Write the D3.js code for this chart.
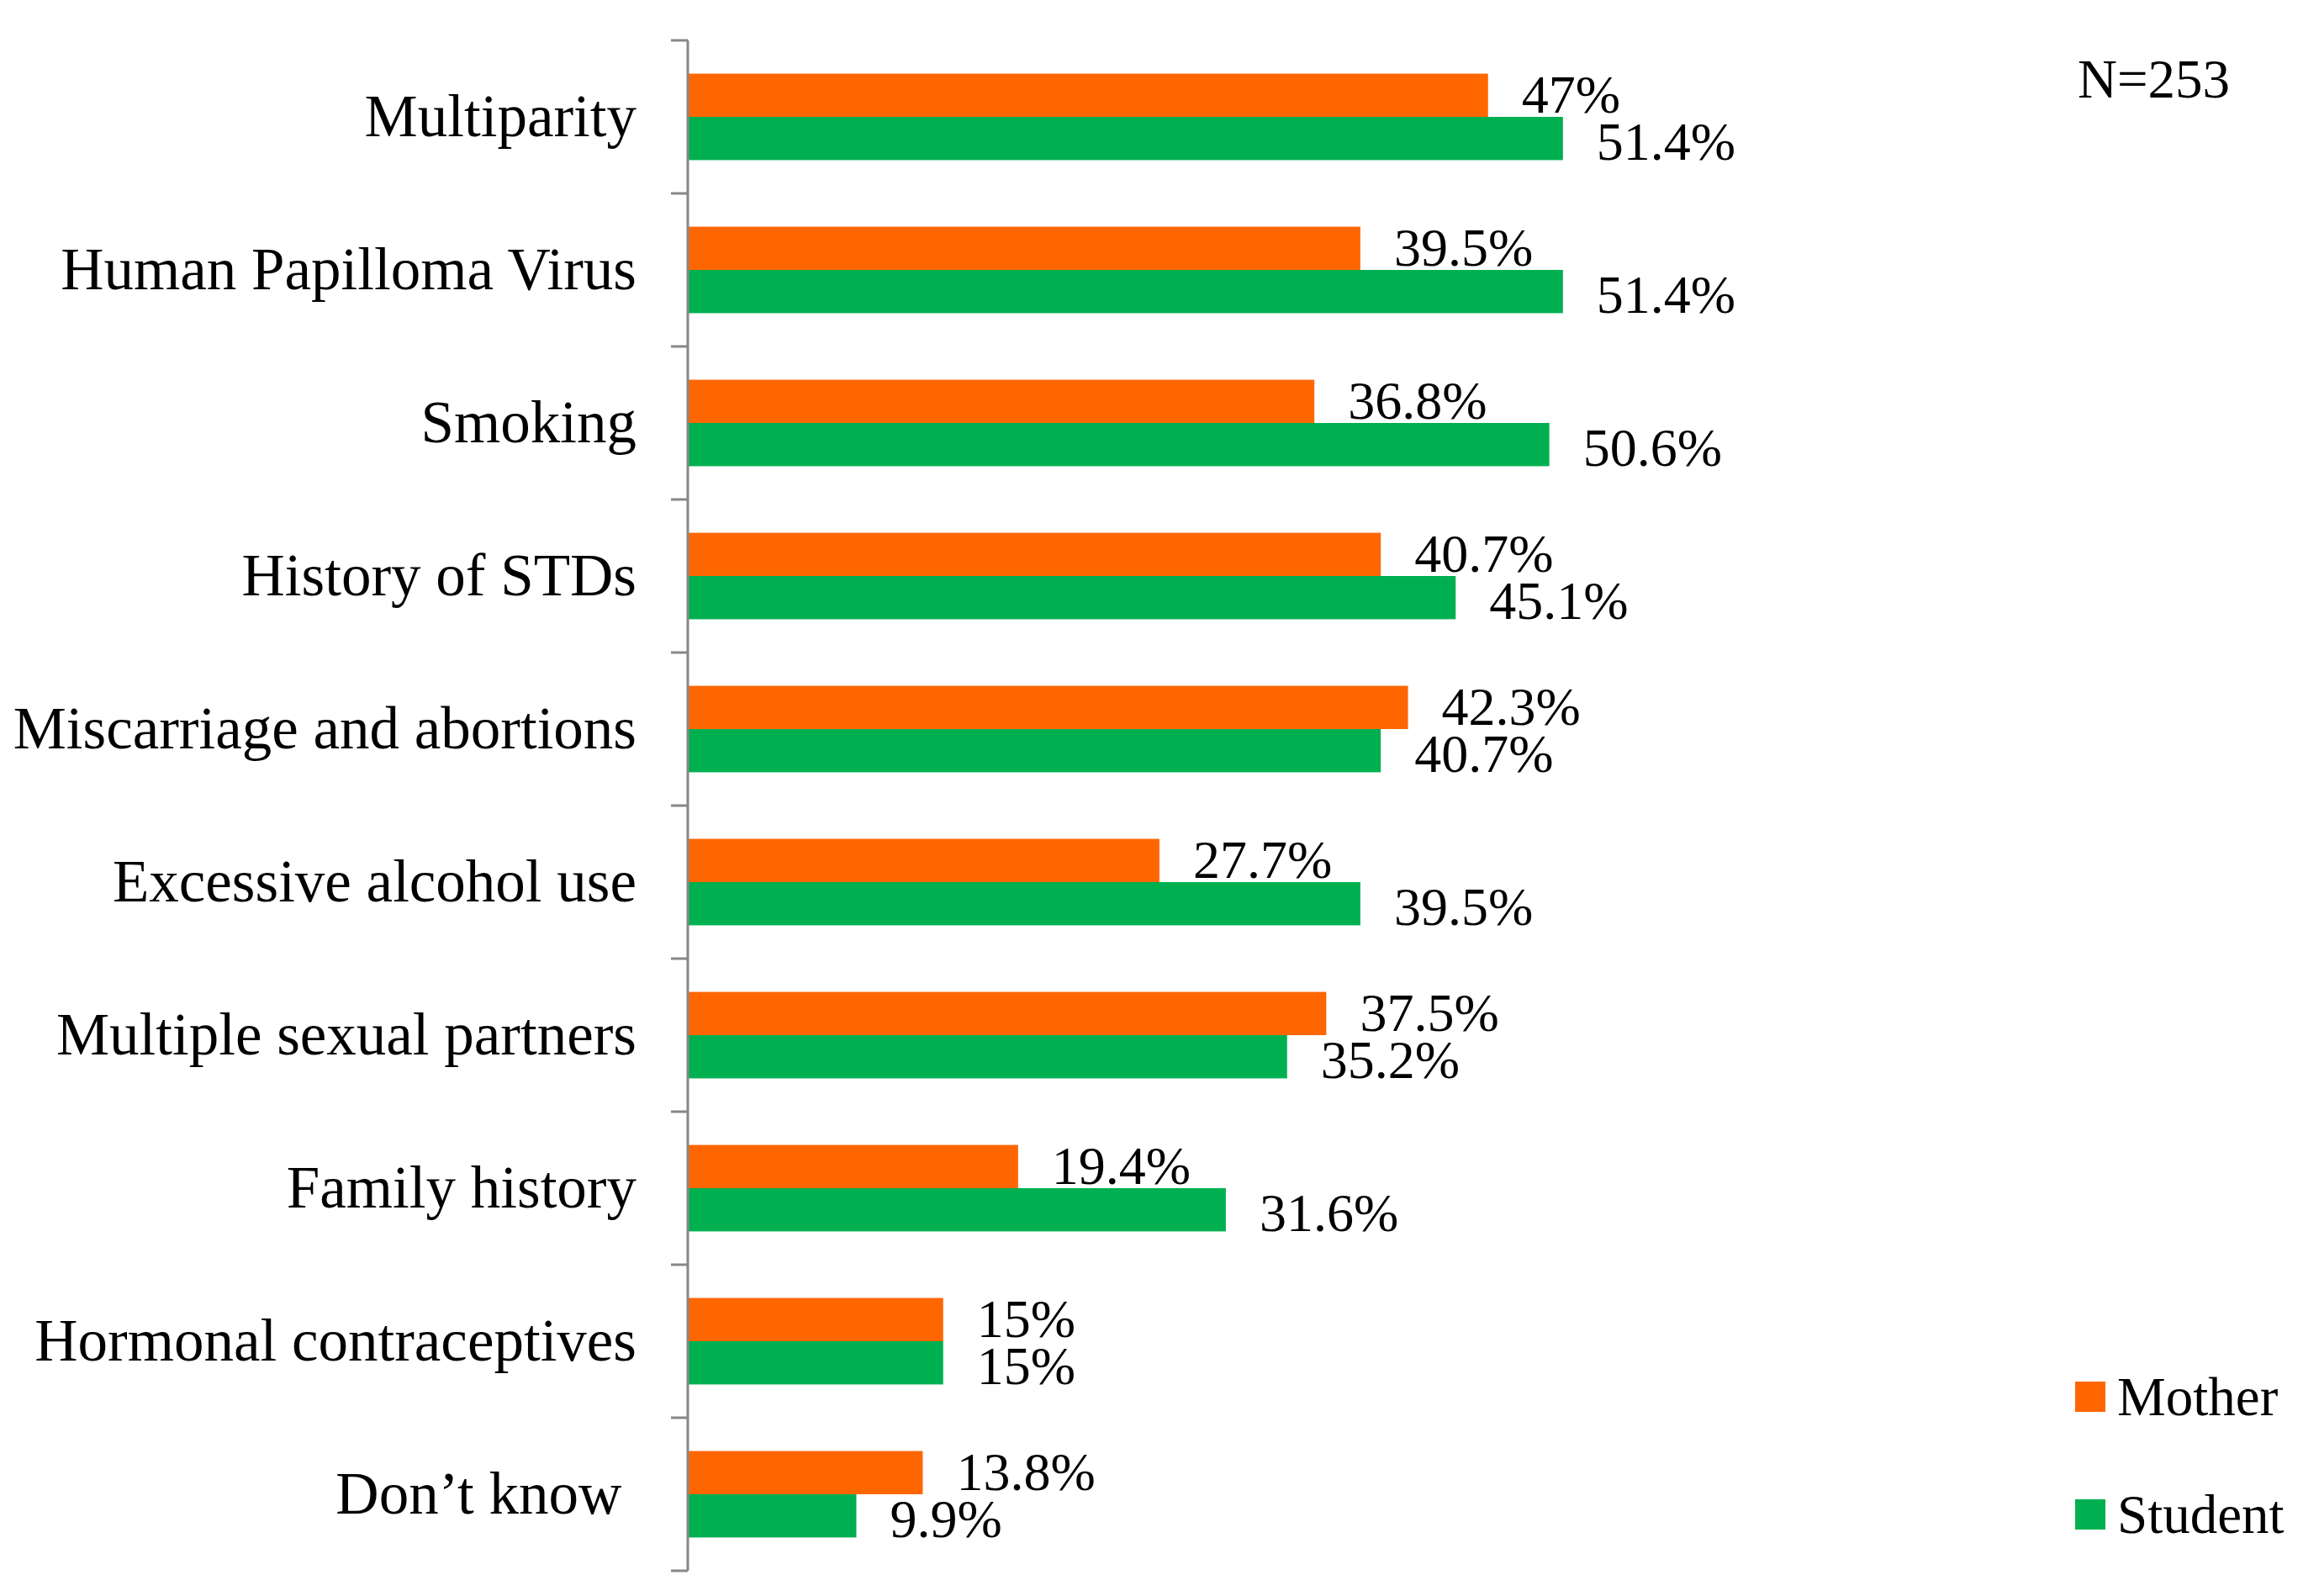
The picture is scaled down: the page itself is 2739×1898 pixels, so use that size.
<!DOCTYPE html>
<html>
<head>
<meta charset="utf-8">
<script src="https://cdn.jsdelivr.net/npm/d3@7"></script>
<style>
  html, body { margin: 0; padding: 0; background: #fff; }
  svg { display: block; }
  text { font-family: "Liberation Serif", "Times New Roman", serif; fill: #000; }
</style>
</head>
<body>
<svg id="chart" width="2739" height="1898"></svg>
<script>
const categories = [
  "Multiparity",
  "Human Papilloma Virus",
  "Smoking",
  "History of STDs",
  "Miscarriage and abortions",
  "Excessive alcohol use",
  "Multiple sexual partners",
  "Family history",
  "Hormonal contraceptives",
  "Don’t know "
];
const series = ["Mother", "Student"];
const motherValues  = [47, 39.5, 36.8, 40.7, 42.3, 27.7, 37.5, 19.4, 15, 13.8];
const studentValues = [51.4, 51.4, 50.6, 45.1, 40.7, 39.5, 35.2, 31.6, 15, 9.9];
const motherLabels  = ["47%", "39.5%", "36.8%", "40.7%", "42.3%", "27.7%", "37.5%", "19.4%", "15%", "13.8%"];
const studentLabels = ["51.4%", "51.4%", "50.6%", "45.1%", "40.7%", "39.5%", "35.2%", "31.6%", "15%", "9.9%"];
const colors = { Mother: "#FF6600", Student: "#00B050" };
const noteText = "N=253";

const svg = d3.select("#chart");

const x = d3.scaleLinear().domain([0, 60]).range([818, 818 + 1215]);
const y = d3.scaleBand().domain(categories).range([48, 1868]).padding(0);
const ySub = d3.scaleBand().domain(series).range([0, y.bandwidth()]).paddingInner(0).paddingOuter(0.77);

const rows = categories.map((c, i) => ({
  cat: c,
  vals: [
    { s: "Mother", v: motherValues[i], label: motherLabels[i] },
    { s: "Student", v: studentValues[i], label: studentLabels[i] }
  ]
}));

const groups = svg.selectAll("g.row").data(rows).join("g")
  .attr("class", "row")
  .attr("transform", d => `translate(0,${y(d.cat)})`);

groups.selectAll("rect").data(d => d.vals).join("rect")
  .attr("x", x(0))
  .attr("y", d => ySub(d.s))
  .attr("width", d => x(d.v) - x(0))
  .attr("height", ySub.bandwidth())
  .attr("fill", d => colors[d.s]);

groups.selectAll("text.val").data(d => d.vals).join("text")
  .attr("class", "val")
  .attr("x", d => x(d.v) + 40)
  .attr("y", d => ySub(d.s) + ySub.bandwidth() / 2 + (d.s === "Mother" ? 21 : 25))
  .attr("font-size", 64)
  .text(d => d.label);

// category labels
svg.selectAll("text.cat").data(categories).join("text")
  .attr("class", "cat")
  .attr("x", x(0) - 61)
  .attr("y", d => y(d) + y.bandwidth() / 2 + 23)
  .attr("text-anchor", "end")
  .attr("font-size", 71)
  .style("white-space", "pre")
  .text(d => d);

// axis line and ticks at category boundaries
const axisColor = "#878787";
svg.append("line")
  .attr("x1", x(0)).attr("x2", x(0))
  .attr("y1", y.range()[0]).attr("y2", y.range()[1])
  .attr("stroke", axisColor).attr("stroke-width", 3);
const tickPos = categories.map(c => y(c)).concat([y.range()[1]]);
svg.selectAll("line.tick").data(tickPos).join("line")
  .attr("class", "tick")
  .attr("x1", x(0) - 20).attr("x2", x(0))
  .attr("y1", d => d).attr("y2", d => d)
  .attr("stroke", axisColor).attr("stroke-width", 3);

// N note
svg.append("text")
  .attr("x", 2471).attr("y", 116)
  .attr("font-size", 65)
  .text(noteText);

// legend
const legend = svg.selectAll("g.legend").data(series).join("g")
  .attr("class", "legend")
  .attr("transform", (d, i) => `translate(2468,${1643 + i * 140})`);
legend.append("rect")
  .attr("width", 36).attr("height", 36)
  .attr("fill", d => colors[d]);
legend.append("text")
  .attr("x", 50).attr("y", 40)
  .attr("font-size", 65)
  .text(d => d);
</script>
</body>
</html>
